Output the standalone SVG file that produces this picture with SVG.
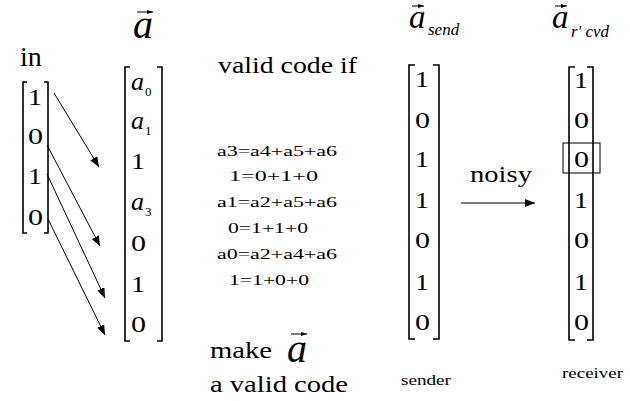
<svg xmlns="http://www.w3.org/2000/svg" width="630" height="401" viewBox="0 0 630 401">
  <style>
    text { font-family: "Liberation Serif", "Times New Roman", serif; fill: #000; }
    .big { font-size: 28px; }
    .txt { font-size: 23px; }
    .num { font-size: 24px; }
    .eq { font-size: 15px; }
    .small { font-size: 15px; }
    .var { font-size: 26px; font-style: italic; }
    .sub { font-size: 13px; }
    .vec { font-size: 40px; font-style: italic; }
    .vecm { font-size: 33px; font-style: italic; }
    .vsub { font-size: 17px; font-style: italic; }
    .br { fill: none; stroke: #000; stroke-width: 1.6; }
    .conn { stroke: #000; stroke-width: 1; fill: none; }
    .vbar { stroke: #000; stroke-width: 1; }
    .flip { fill: none; stroke: #000; stroke-width: 1; }
  </style>
  <defs>
    <marker id="head" viewBox="0 0 10 8" refX="10" refY="4" markerWidth="10" markerHeight="8" markerUnits="userSpaceOnUse" orient="auto">
      <path d="M0,0 L10,4 L0,8 Z" fill="#000"/>
    </marker>
    <marker id="vhead" viewBox="0 0 6 4" refX="6" refY="2" markerWidth="6" markerHeight="4" markerUnits="userSpaceOnUse" orient="auto">
      <path d="M0,0 L6,2 L0,4 Z" fill="#000"/>
    </marker>
  </defs>
  <rect width="630" height="401" fill="#fff"/>

  <!-- input column -->
  <g id="node-in">
    <text class="big" x="20" y="66">in</text>
    <path class="br" d="M27,82 H23 V233 H27"/>
    <path class="br" d="M44,82 H48 V233 H44"/>
    <text class="num" x="28" y="105" textLength="14" lengthAdjust="spacingAndGlyphs">1</text>
    <text class="num" x="28" y="144" textLength="15" lengthAdjust="spacingAndGlyphs">0</text>
    <text class="num" x="28" y="184" textLength="14" lengthAdjust="spacingAndGlyphs">1</text>
    <text class="num" x="28" y="225" textLength="15" lengthAdjust="spacingAndGlyphs">0</text>
  </g>

  <!-- codeword a -->
  <g id="node-a">
    <text class="vec" x="133" y="38">a</text>
    <line class="vbar" x1="137" y1="12" x2="153" y2="12" marker-end="url(#vhead)"/>
    <path class="br" d="M130,67 H125 V341 H130"/>
    <path class="br" d="M157,67 H162 V341 H157"/>
    <text class="var" x="131" y="90">a</text><text class="sub" x="145" y="96">0</text>
    <text class="var" x="131" y="129">a</text><text class="sub" x="145" y="135">1</text>
    <text class="num" x="131" y="169" textLength="14" lengthAdjust="spacingAndGlyphs">1</text>
    <text class="var" x="131" y="210">a</text><text class="sub" x="145" y="216">3</text>
    <text class="num" x="131" y="251" textLength="15" lengthAdjust="spacingAndGlyphs">0</text>
    <text class="num" x="131" y="292" textLength="14" lengthAdjust="spacingAndGlyphs">1</text>
    <text class="num" x="131" y="332" textLength="15" lengthAdjust="spacingAndGlyphs">0</text>
  </g>

  <!-- parity conditions -->
  <g id="node-conditions">
    <text class="txt" x="218" y="73" textLength="139" lengthAdjust="spacingAndGlyphs">valid code if</text>
    <text class="eq" x="217" y="156" textLength="120" lengthAdjust="spacingAndGlyphs">a3=a4+a5+a6</text>
    <text class="eq" x="229" y="181" textLength="89" lengthAdjust="spacingAndGlyphs">1=0+1+0</text>
    <text class="eq" x="217" y="207" textLength="120" lengthAdjust="spacingAndGlyphs">a1=a2+a5+a6</text>
    <text class="eq" x="228" y="233" textLength="80" lengthAdjust="spacingAndGlyphs">0=1+1+0</text>
    <text class="eq" x="217" y="259" textLength="120" lengthAdjust="spacingAndGlyphs">a0=a2+a4+a6</text>
    <text class="eq" x="229" y="285" textLength="80" lengthAdjust="spacingAndGlyphs">1=1+0+0</text>
  </g>

  <!-- caption -->
  <g id="node-make">
    <text class="txt" x="210" y="358" textLength="62" lengthAdjust="spacingAndGlyphs">make</text>
    <text class="vec" x="287" y="362">a</text>
    <line class="vbar" x1="291" y1="334" x2="307" y2="334" marker-end="url(#vhead)"/>
    <text class="txt" x="210" y="392" textLength="138" lengthAdjust="spacingAndGlyphs">a valid code</text>
  </g>

  <!-- sent codeword -->
  <g id="node-send">
    <text class="vecm" x="409" y="28">a</text>
    <line class="vbar" x1="412" y1="6" x2="424" y2="6" marker-end="url(#vhead)"/>
    <text class="vsub" x="428" y="35">send</text>
    <path class="br" d="M415,65 H409 V339 H415"/>
    <path class="br" d="M433,65 H439 V339 H433"/>
    <text class="num" x="415" y="87" textLength="14" lengthAdjust="spacingAndGlyphs">1</text>
    <text class="num" x="415" y="128" textLength="15" lengthAdjust="spacingAndGlyphs">0</text>
    <text class="num" x="415" y="167" textLength="14" lengthAdjust="spacingAndGlyphs">1</text>
    <text class="num" x="415" y="208" textLength="14" lengthAdjust="spacingAndGlyphs">1</text>
    <text class="num" x="415" y="248" textLength="15" lengthAdjust="spacingAndGlyphs">0</text>
    <text class="num" x="415" y="290" textLength="14" lengthAdjust="spacingAndGlyphs">1</text>
    <text class="num" x="415" y="330" textLength="15" lengthAdjust="spacingAndGlyphs">0</text>
    <text class="small" x="401" y="385" textLength="50" lengthAdjust="spacingAndGlyphs">sender</text>
  </g>

  <!-- received codeword, flipped bit boxed -->
  <g id="node-rcvd">
    <text class="vecm" x="552" y="28">a</text>
    <line class="vbar" x1="555" y1="6" x2="567" y2="6" marker-end="url(#vhead)"/>
    <text class="vsub" x="571" y="37">r' cvd</text>
    <path class="br" d="M575,67 H569 V340 H575"/>
    <path class="br" d="M587,67 H593 V340 H587"/>
    <text class="num" x="574" y="88" textLength="14" lengthAdjust="spacingAndGlyphs">1</text>
    <text class="num" x="574" y="128" textLength="15" lengthAdjust="spacingAndGlyphs">0</text>
    <text class="num" x="574" y="167" textLength="15" lengthAdjust="spacingAndGlyphs">0</text>
    <rect class="flip" x="563" y="143" width="37" height="30"/>
    <text class="num" x="574" y="208" textLength="14" lengthAdjust="spacingAndGlyphs">1</text>
    <text class="num" x="574" y="248" textLength="15" lengthAdjust="spacingAndGlyphs">0</text>
    <text class="num" x="574" y="290" textLength="14" lengthAdjust="spacingAndGlyphs">1</text>
    <text class="num" x="574" y="330" textLength="15" lengthAdjust="spacingAndGlyphs">0</text>
    <text class="small" x="562" y="378" textLength="61" lengthAdjust="spacingAndGlyphs">receiver</text>
  </g>

  <!-- connectors -->
  <g id="connectors">
    <line class="conn" x1="54" y1="93" x2="99" y2="167" marker-end="url(#head)"/>
    <line class="conn" x1="47" y1="145" x2="100" y2="246" marker-end="url(#head)"/>
    <line class="conn" x1="47" y1="174" x2="105" y2="298" marker-end="url(#head)"/>
    <line class="conn" x1="48" y1="219" x2="105" y2="335" marker-end="url(#head)"/>
    <line class="conn" x1="461" y1="203" x2="535" y2="203" marker-end="url(#head)"/>
    <text class="txt" x="470" y="182" textLength="62" lengthAdjust="spacingAndGlyphs">noisy</text>
  </g>
</svg>
